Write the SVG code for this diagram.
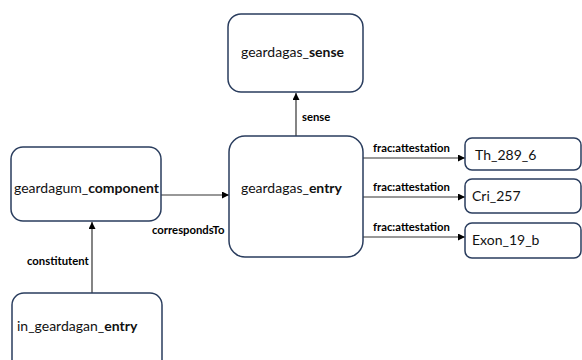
<svg xmlns="http://www.w3.org/2000/svg" width="582" height="360" viewBox="0 0 582 360">
<style>
.box{fill:#fff;stroke:#2a3d5e;stroke-width:1.5}
.t{font-family:Lato,"Open Sans",sans-serif;font-size:14px;fill:#111}
.b{font-weight:bold}
.l{font-family:Lato,"Open Sans",sans-serif;font-size:11.3px;font-weight:bold;fill:#000}
.c{stroke:#333;stroke-width:1.2;fill:none;marker-end:url(#ah)}
</style>
<defs>
<marker id="ah" viewBox="0 0 10 10" refX="10" refY="5" markerWidth="7" markerHeight="7" orient="auto" markerUnits="userSpaceOnUse">
<path d="M0,0 L10,5 L0,10 z" fill="#000"/>
</marker>
</defs>
<rect width="582" height="360" fill="#fff"/>
<g id="connectors">
<line class="c" x1="296" y1="136" x2="296" y2="93"/>
<line class="c" x1="161" y1="195" x2="229" y2="195"/>
<line class="c" x1="92" y1="293" x2="92" y2="222"/>
<line class="c" x1="363" y1="158" x2="465" y2="158"/>
<line class="c" x1="363" y1="197" x2="465" y2="197"/>
<line class="c" x1="363" y1="237" x2="465" y2="237"/>
<text class="l" x="302" y="121">sense</text>
<text class="l" x="152" y="234">correspondsTo</text>
<text class="l" x="27" y="265">constitutent</text>
<text class="l" x="373" y="152">frac:attestation</text>
<text class="l" x="373" y="191">frac:attestation</text>
<text class="l" x="373" y="231">frac:attestation</text>
</g>
<g id="sense">
<rect class="box" x="228" y="14" width="135" height="78" rx="13"/>
<text class="t" x="241" y="57">geardagas_<tspan class="b">sense</tspan></text>
</g>
<g id="entry">
<rect class="box" x="229" y="136" width="134" height="121" rx="16"/>
<text class="t" x="241" y="193">geardagas_<tspan class="b">entry</tspan></text>
</g>
<g id="component">
<rect class="box" x="11" y="147" width="150" height="74" rx="12"/>
<text class="t" x="14" y="193">geardagum_<tspan class="b">component</tspan></text>
</g>
<g id="in_entry">
<rect class="box" x="12" y="293" width="150" height="80" rx="12"/>
<text class="t" x="17" y="331">in_geardagan_<tspan class="b">entry</tspan></text>
</g>
<g id="th">
<rect class="box" x="465" y="138" width="116" height="32" rx="7"/>
<text class="t" x="475" y="160">Th_289_6</text>
</g>
<g id="cri">
<rect class="box" x="465" y="179" width="116" height="34" rx="7"/>
<text class="t" x="472" y="201">Cri_257</text>
</g>
<g id="exon">
<rect class="box" x="465" y="223" width="116" height="35" rx="7"/>
<text class="t" x="472" y="245">Exon_19_b</text>
</g>
</svg>
